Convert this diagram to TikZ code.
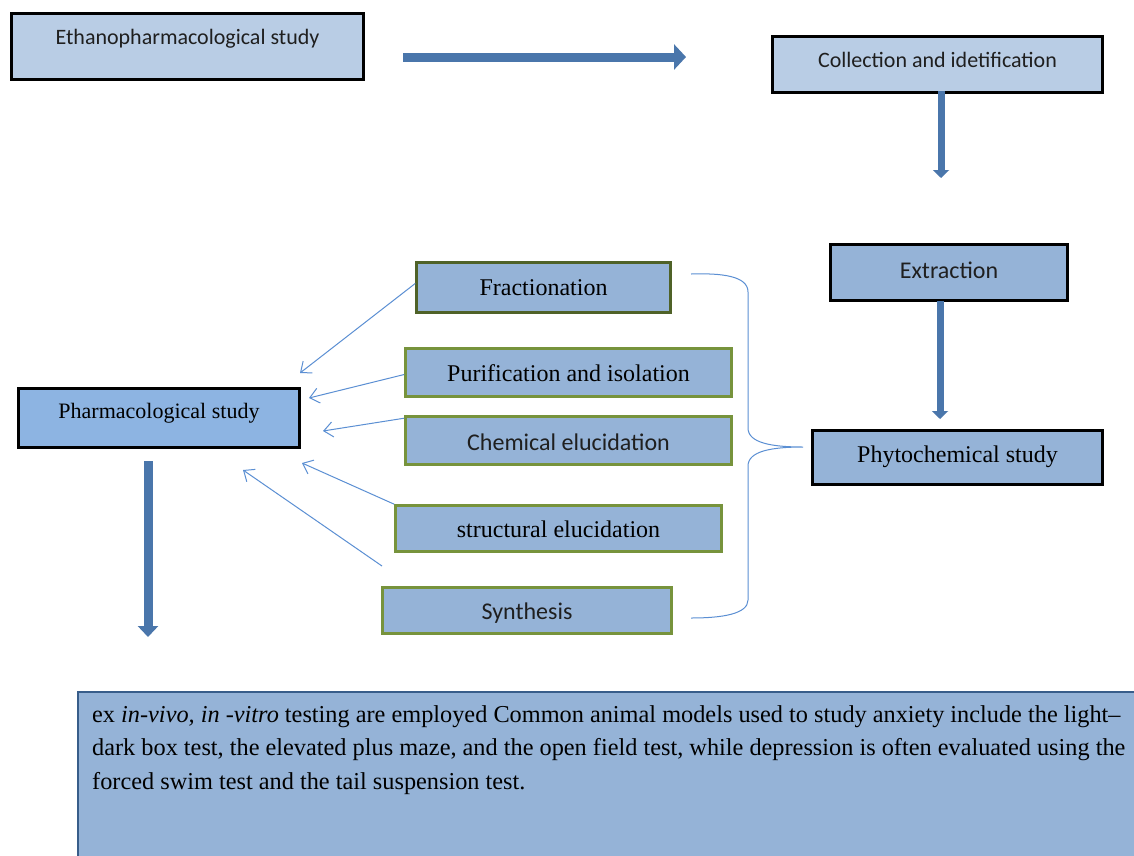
\documentclass[tikz,border=0pt]{standalone}
\usepackage{fontspec}
\setmainfont{Liberation Serif}
\newfontfamily\calfont{Carlito}
\usetikzlibrary{arrows.meta}
\definecolor{lightfill}{HTML}{B9CDE5}
\definecolor{midfill}{HTML}{95B3D7}
\definecolor{pharmafill}{HTML}{8DB4E2}
\definecolor{greenline}{HTML}{77933C}
\definecolor{oliveline}{HTML}{4F6228}
\definecolor{heavyblue}{HTML}{4A76AB}
\definecolor{thinblue}{HTML}{5B8FD3}
\definecolor{darkblue}{HTML}{385D8A}
\definecolor{calgray}{HTML}{1F1F1F}
\begin{document}
\begin{tikzpicture}[x=1pt,y=-1pt,
  box/.style={draw=black, line width=2.6pt, inner sep=0pt, text height=0.68em+12pt, text depth=0.22em},
  greenbox/.style={box, draw=greenline, fill=midfill},
  calib/.style={font=\calfont\fontsize{#1}{#1}\selectfont, text=calgray},
  timesf/.style={font=\fontsize{#1}{#1}\selectfont, text=black},
  heavy/.style={draw=heavyblue, line cap=butt},
  thinarrow/.style={draw=thinblue, line width=1pt, -{Straight Barb[length=9pt,width=15pt,line width=1pt]}},
  bracepath/.style={draw=thinblue, line width=1pt}
]
\useasboundingbox (0,0) rectangle (1134,855);
\clip (0,0) rectangle (1134,855);
\fill[white] (0,0) rectangle (1134,855);

% boxes
\node[box, fill=lightfill, minimum width=352pt, minimum height=66pt, calib=22, text depth=0.22em+21pt] (ethano) at (187.5,46.5) {Ethanopharmacological study};
\node[box, fill=lightfill, minimum width=330pt, minimum height=56pt, calib=22, text depth=0.22em+10pt] (collect) at (937.5,64.5) {Collection and idetification};
\node[box, fill=midfill, minimum width=237pt, minimum height=56pt, calib=24, text depth=0.22em+5pt] (extract) at (949,272.5) {Extraction};
\node[box, fill=midfill, minimum width=290pt, minimum height=54pt, timesf=24, text depth=0.22em+6pt] (phyto) at (957.5,457.5) {Phytochemical study};
\node[box, fill=pharmafill, minimum width=281pt, minimum height=59pt, timesf=22, text depth=0.22em+15pt] (pharma) at (159,418) {Pharmacological study};

\node[greenbox, draw=oliveline, minimum width=254pt, minimum height=50pt, timesf=24] (frac) at (543.5,287.5) {Fractionation};
\node[greenbox, minimum width=326pt, minimum height=48pt, timesf=24, text height=0.68em+14pt] (purif) at (568.5,372.5) {Purification and isolation};
\node[greenbox, minimum width=326pt, minimum height=48pt, calib=24, text height=0.68em+15pt] (chem) at (568.5,440.5) {Chemical elucidation};
\node[greenbox, minimum width=326pt, minimum height=46pt, timesf=24, text height=0.68em+14pt] (struct) at (558.5,528.5) {structural elucidation};
\node[greenbox, minimum width=289pt, minimum height=46pt, calib=24, text height=0.68em+14pt] (synth) at (527,610.5) {Synthesis};

% bottom box
\node[draw=darkblue, line width=2pt, fill=midfill, inner sep=0pt, minimum width=1100pt, minimum height=200pt, anchor=north west] (note) at (77,691) {};
\node[anchor=north west, inner sep=0pt, align=left, font=\fontsize{24.3}{33.5}\selectfont] (notetext) at ([xshift=15pt,yshift=-14pt]note.north west)
{ex \textit{in-vivo, in -vitro} testing are employed Common animal models used to study anxiety include the light–\\
dark box test, the elevated plus maze, and the open field test, while depression is often evaluated using the\\
forced swim test and the tail suspension test.};

% heavy arrows
\coordinate (h1) at (403,57);
\coordinate (h2) at (686,57);
\draw[heavy, line width=9pt, -{Triangle[width=25pt,length=12pt]}] (h1) -- (h2);
\coordinate (c1) at (941,91);
\coordinate (c2) at (941,178);
\draw[heavy, line width=7pt, -{Triangle[width=16pt,length=8pt]}] (c1) -- (c2);
\coordinate (e1) at (940,301);
\coordinate (e2) at (940,419);
\draw[heavy, line width=7pt, -{Triangle[width=16pt,length=8pt]}] (e1) -- (e2);
\coordinate (p1) at (148,461);
\coordinate (p2) at (148,637);
\draw[heavy, line width=9pt, -{Triangle[width=20pt,length=11pt]}] (p1) -- (p2);

% thin arrows
\coordinate (t1) at (300,373);
\coordinate (t2) at (309,398);
\coordinate (t3) at (323,431);
\coordinate (t4) at (302,463);
\coordinate (t5) at (243,470);
\coordinate (s5) at (382,566);
\draw[thinarrow] ([yshift=4pt]frac.west) -- (t1);
\draw[thinarrow] ([yshift=-2pt]purif.west) -- (t2);
\draw[thinarrow] ([yshift=-3pt]chem.north west) -- (t3);
\draw[thinarrow] (struct.north west) -- (t4);
\draw[thinarrow] (s5) -- (t5);

% brace
\draw[bracepath] (691,274) .. controls (722,273) and (748,276) .. (748,292) -- (748,428)
  .. controls (748,443) and (772,447) .. (803,447)
  .. controls (772,447) and (748,451) .. (748,466) -- (748,600)
  .. controls (748,614) and (722,618) .. (691,618);
\end{tikzpicture}
\end{document}
